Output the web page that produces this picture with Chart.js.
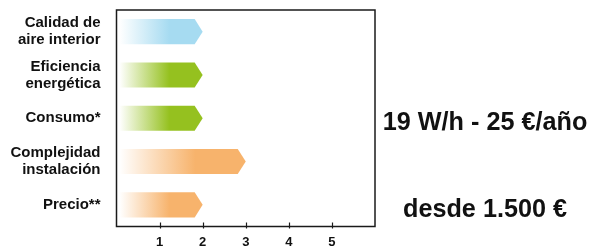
<!DOCTYPE html>
<html>
<head>
<meta charset="utf-8">
<script src="https://cdn.jsdelivr.net/npm/chart.js@4"></script>
<style>
  html, body { margin: 0; padding: 0; background: #fff; }
  #wrap { width: 606px; height: 248px; }
</style>
</head>
<body>
<div id="wrap"><canvas id="myChart" width="606" height="248"></canvas></div>
<script>
const FONT = "'Liberation Sans', Arial, sans-serif";

const categories = [
  ["Calidad de", "aire interior"],
  ["Eficiencia", "energética"],
  "Consumo*",
  ["Complejidad", "instalación"],
  "Precio**",
];
const values = [2, 2, 2, 3, 2];
const barColors = ["#a6dbf1", "#95c11f", "#95c11f", "#f7b36c", "#f7b36c"];
const xTicks = [1, 2, 3, 4, 5];
// notes shown to the right of the box, keyed by row index
const sideNotes = [
  { row: 2, text: "19 W/h - 25 €/año" },
  { row: 4, text: "desde 1.500 €" },
];

// arrow shaped bars with a white -> colour gradient
const arrowBars = {
  id: "arrowBars",
  afterDatasetsDraw(chart) {
    const ctx = chart.ctx;
    const meta = chart.getDatasetMeta(0);
    meta.data.forEach((bar, i) => {
      const { x, y, base, height } = bar.getProps(["x", "y", "base", "height"], true);
      const left = base + 3;
      const tip = 8;
      const h = height / 2;
      const grad = ctx.createLinearGradient(left, 0, left + (x - left) * 0.6, 0);
      grad.addColorStop(0, "#ffffff");
      grad.addColorStop(1, barColors[i]);
      ctx.save();
      ctx.fillStyle = grad;
      ctx.beginPath();
      ctx.moveTo(left, y - h);
      ctx.lineTo(x - tip, y - h);
      ctx.lineTo(x, y);
      ctx.lineTo(x - tip, y + h);
      ctx.lineTo(left, y + h);
      ctx.closePath();
      ctx.fill();
      ctx.restore();
    });
  },
};

// frame around the plot, tick marks and side notes
const frame = {
  id: "frame",
  afterDraw(chart) {
    const ctx = chart.ctx;
    const a = chart.chartArea;
    const xs = chart.scales.x;
    const ys = chart.scales.y;
    ctx.save();
    ctx.strokeStyle = "#1a1a1a";
    ctx.lineWidth = 1.5;
    ctx.strokeRect(a.left, a.top, a.right - a.left, a.bottom - a.top);
    ctx.lineWidth = 1.2;
    xTicks.forEach((t) => {
      const px = Math.round(xs.getPixelForValue(t)) + 0.5;
      ctx.beginPath();
      ctx.moveTo(px, a.bottom - 4);
      ctx.lineTo(px, a.bottom + 2);
      ctx.stroke();
    });
    ctx.fillStyle = "#111";
    ctx.font = "bold 26px " + FONT;
    ctx.textAlign = "center";
    ctx.textBaseline = "alphabetic";
    sideNotes.forEach((n) => {
      ctx.save();
      ctx.translate(485, ys.getPixelForValue(n.row) + 12);
      ctx.scale(0.97, 1);
      ctx.fillText(n.text, 0, 0);
      ctx.restore();
    });
    ctx.restore();
  },
};

const ctx = document.getElementById("myChart").getContext("2d");

const chart = new Chart(ctx, {
  type: "bar",
  data: {
    labels: categories,
    datasets: [
      {
        data: values,
        backgroundColor: "rgba(0,0,0,0)",
        barPercentage: 0.58,
        categoryPercentage: 1,
      },
    ],
  },
  options: {
    indexAxis: "y",
    responsive: false,
    animation: false,
    layout: {
      padding: { top: 10, right: 231, bottom: 0, left: 0 },
    },
    plugins: {
      legend: { display: false },
      tooltip: { enabled: false },
    },
    scales: {
      x: {
        min: 0,
        max: 6,
        afterFit: (scale) => {
          scale.height = 21.5;
          scale.paddingLeft = 0;
          scale.paddingRight = 0;
        },
        grid: { display: false, drawTicks: false },
        border: { display: false },
        ticks: {
          stepSize: 1,
          padding: 8,
          color: "#111",
          font: { family: FONT, size: 13, weight: "bold" },
          callback: (v) => (xTicks.includes(v) ? v : ""),
        },
      },
      y: {
        afterFit: (scale) => {
          scale.width = 116.5;
          scale.paddingTop = 0;
          scale.paddingBottom = 0;
        },
        grid: { display: false, drawTicks: false },
        border: { display: false },
        ticks: {
          padding: 16,
          color: "#111",
          font: { family: FONT, size: 15, weight: "bold", lineHeight: 1.13 },
        },
      },
    },
  },
  plugins: [arrowBars, frame],
});
</script>
</body>
</html>
